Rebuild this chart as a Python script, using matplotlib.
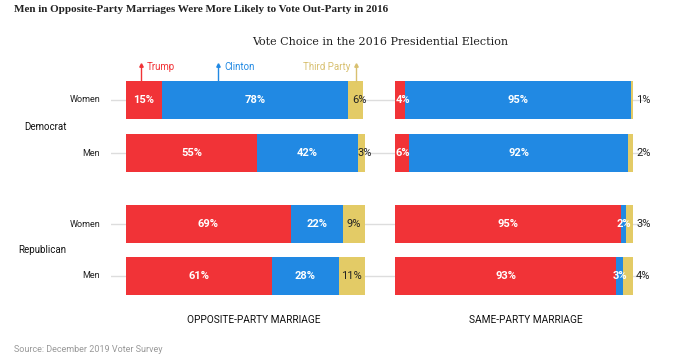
import numpy as np
import matplotlib
matplotlib.use("Agg")
import matplotlib.pyplot as plt

# rows top to bottom
groups = ["Democrat", "Republican"]
rows = ["Women", "Men", "Women", "Men"]
ypos = [0, 1, 2.34, 3.32]

opp_trump = [15, 55, 69, 61]
opp_clinton = [78, 42, 22, 28]
opp_third = [6, 3, 9, 11]

same_trump = [4, 6, 95, 93]
same_clinton = [95, 92, 2, 3]
same_third = [1, 2, 3, 4]

RED = "#f13337"
BLUE = "#2189e3"
YEL = "#e3cb66"
W, H = 677, 364

fig = plt.figure(figsize=(W / 100, H / 100), dpi=100)
plt.rcParams['font.family'] = ['Roboto', 'DejaVu Sans']

def px(x, y):
    return x / W, 1 - y / H

bot = 1 - 310 / H
hgt = 250 / H
ax1 = fig.add_axes([111 / W, bot, (395 - 111) / W, hgt])
ax2 = fig.add_axes([395 / W, bot, (645 - 395) / W, hgt])
ax1.set_xlim(-15 / 2.39, (395 - 126) / 2.39)
ax2.set_xlim(0, 250 / 2.38)

def panel(ax, tr, cl, th, right):
    ax.set_ylim(3.962, -0.755)
    for y in ypos:
        ax.axhline(y, color="#dddddd", lw=1, zorder=0)
    ax.barh(ypos, tr, height=0.72, color=RED, zorder=2)
    ax.barh(ypos, cl, left=tr, height=0.72, color=BLUE, zorder=2)
    left3 = np.array(tr) + np.array(cl)
    ax.barh(ypos, th, left=left3, height=0.72, color=YEL, zorder=2)
    for i, y in enumerate(ypos):
        if tr[i] < 8:
            ax.text(0.3, y, f"{tr[i]}%", color="white", fontsize=8, fontweight="bold",
                    ha="left", va="center", zorder=3)
        else:
            ax.text(tr[i] / 2, y, f"{tr[i]}%", color="white", fontsize=8, fontweight="bold",
                    ha="center", va="center", zorder=3)
        ax.text(tr[i] + cl[i] / 2, y, f"{cl[i]}%", color="white", fontsize=8,
                fontweight="bold", ha="center", va="center", zorder=3)
        if right:
            ax.text(101.3, y, f"{th[i]}%", color="#222222", fontsize=8,
                    ha="left", va="center", zorder=3)
        else:
            cx = left3[i] + th[i] / 2
            if th[i] < 8:
                cx += 1.5
            ax.text(cx, y, f"{th[i]}%", color="#222222", fontsize=8,
                    ha="center", va="center", zorder=3)
    ax.axis("off")

panel(ax1, opp_trump, opp_clinton, opp_third, False)
panel(ax2, same_trump, same_clinton, same_third, True)

# row labels
for r, y in zip(rows, ypos):
    fig.text(*px(100, 100 + y * 53), r, fontsize=6.5, ha="right", va="center", color="#222222")
fig.text(*px(24, 127), groups[0], fontsize=7, ha="left", va="center", color="#111111")
fig.text(*px(18, 250), groups[1], fontsize=7, ha="left", va="center", color="#111111")

# legend callouts
for name, x, col, tx, ha in [("Trump", 141, RED, 147, "left"),
                             ("Clinton", 218, BLUE, 224, "left"),
                             ("Third Party", 356, "#d8c070", 350, "right")]:
    fig.add_artist(plt.Line2D([x / W, x / W], [1 - 81 / H, 1 - 65 / H], color=col, lw=1))
    fig.add_artist(plt.Line2D([x / W], [1 - 65 / H], marker="^", ms=2.5, color=col))
    fig.text(*px(tx, 67), name, color=col, fontsize=7, ha=ha, va="center")

fig.text(*px(14, 10), "Men in Opposite-Party Marriages Were More Likely to Vote Out-Party in 2016",
         family="Liberation Serif", fontweight="bold", fontsize=8.0, color="#222222",
         ha="left", va="center")
fig.text(*px(380, 42), "Vote Choice in the 2016 Presidential Election",
         family="DejaVu Serif", fontsize=8.0, color="#222222", ha="center", va="center")

fig.text(*px(254, 320), "OPPOSITE-PARTY MARRIAGE", fontsize=7.3, ha="center", va="center", color="#111111")
fig.text(*px(526, 320), "SAME-PARTY MARRIAGE", fontsize=7.3, ha="center", va="center", color="#111111")
fig.text(*px(14, 349), "Source: December 2019 Voter Survey", fontsize=6.5, ha="left",
         va="center", color="#999999")

fig.savefig("out.png", dpi=100)
